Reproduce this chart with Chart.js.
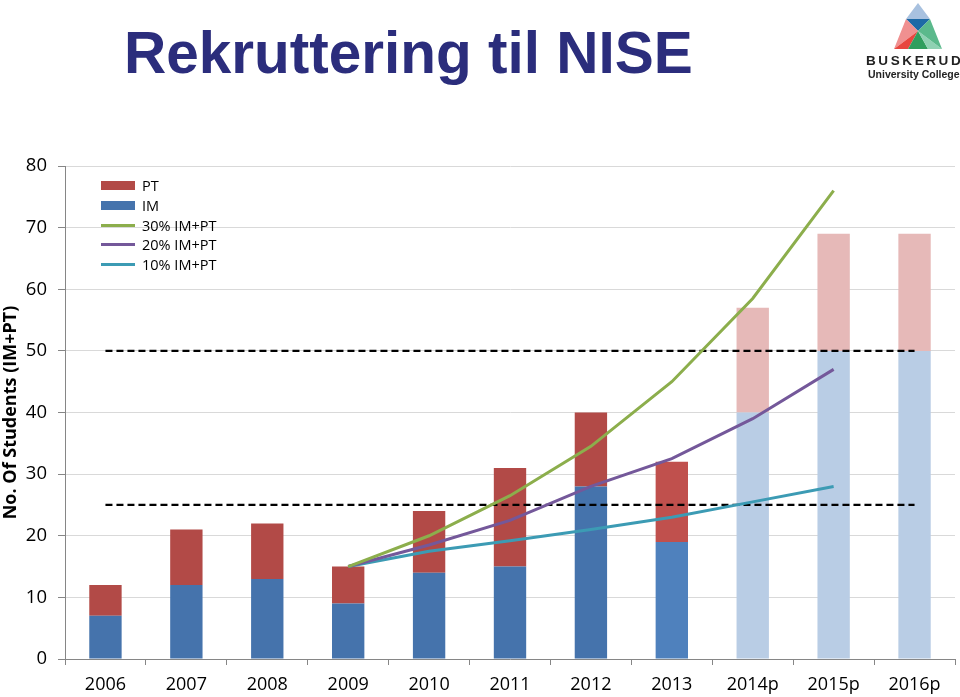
<!DOCTYPE html>
<html><head><meta charset="utf-8">
<script src="https://cdn.jsdelivr.net/npm/chart.js@4.4.0/dist/chart.umd.min.js"></script>
<style>
html,body{margin:0;padding:0;background:#fff;width:960px;height:697px;overflow:hidden;font-family:"Liberation Sans",Arial,sans-serif;}
#wrap{position:absolute;left:0;top:0;width:960px;height:697px;}
#title{position:absolute;left:124px;top:19px;font:bold 58.5px "Liberation Sans",Arial,sans-serif;color:#2b2d7c;white-space:nowrap;}
#legend{position:absolute;left:101px;top:176px;font:14.5px "Open Sans","Liberation Sans",sans-serif;color:#000;}
.li{height:19.7px;display:flex;align-items:center;}
.sw{width:34px;margin-right:7px;}
#logo{position:absolute;left:866px;top:2px;width:92px;}
#logo svg{display:block;margin-left:25px;}
#logo .b{font:bold 13.5px "Liberation Sans",Arial,sans-serif;letter-spacing:2.6px;color:#222;margin-top:2px;white-space:nowrap;}
#logo .u{font:bold 10.5px "Liberation Sans",Arial,sans-serif;color:#222;white-space:nowrap;margin-left:2px;}
</style></head>
<body>
<div id="wrap"><canvas id="c" width="960" height="697"></canvas></div>
<div id="title">Rekruttering til NISE</div>
<div id="logo">
<svg width="54" height="49" viewBox="0 0 54 49">
<polygon points="27,1 15,17 39,17" fill="#a8c1df"/>
<polygon points="15,17 39,17 27,29" fill="#1d69a6"/>
<polygon points="15,17 27,29 3,47" fill="#f09090"/>
<polygon points="3,47 27,29 17,47" fill="#e8473f"/>
<polygon points="27,29 17,47 37,47" fill="#2f9e5e"/>
<polygon points="27,29 37,47 51,47" fill="#8fd1b3"/>
<polygon points="39,17 27,29 51,47" fill="#5bb98c"/>
</svg>
<div class="b">BUSKERUD</div>
<div class="u">University College</div>
</div>
<div id="legend">
<div class="li"><div class="sw" style="height:9px;background:#b24a47"></div>PT</div>
<div class="li"><div class="sw" style="height:9px;background:#4573ac"></div>IM</div>
<div class="li"><div class="sw" style="height:3px;background:#8cae4c"></div>30% IM+PT</div>
<div class="li"><div class="sw" style="height:3px;background:#74589a"></div>20% IM+PT</div>
<div class="li"><div class="sw" style="height:3px;background:#3c9bb4"></div>10% IM+PT</div>
</div>
<script>
const categories = ["2006","2007","2008","2009","2010","2011","2012","2013","2014p","2015p","2016p"];
const imValues = [7,12,13,9,14,15,28,19,40,50,50];
const ptValues = [5,9,9,6,10,16,12,13,17,19,19];
const growth30 = [null,null,null,15,20,26.5,34.5,45,58.5,76,null];
const growth20 = [null,null,null,15,18.5,22.5,28,32.5,39,47,null];
const growth10 = [null,null,null,15,17.5,19.2,21,23,25.5,28,null];
const level50 = [50,50,50,50,50,50,50,50,50,50,50];
const level25 = [25,25,25,25,25,25,25,25,25,25,25];
const yTicks = [0,10,20,30,40,50,60,70,80];

const imColors = ["#4573ac","#4573ac","#4573ac","#4573ac","#4573ac","#4573ac","#4573ac","#4f81bd","#b9cde5","#b9cde5","#b9cde5"];
const ptColors = ["#b24a47","#b24a47","#b24a47","#b24a47","#b24a47","#b24a47","#b24a47","#c0504d","#e6b9b8","#e6b9b8","#e6b9b8"];

const lineBase = {type:'line',pointRadius:0,borderWidth:3,tension:0,fill:false,order:0,spanGaps:false};
new Chart(document.getElementById('c'),{
  data:{labels:categories,datasets:[
    {type:'bar',label:'IM',data:imValues,backgroundColor:imColors,stack:'bars',order:2,barPercentage:0.4,categoryPercentage:1},
    {type:'bar',label:'PT',data:ptValues,backgroundColor:ptColors,stack:'bars',order:2,barPercentage:0.4,categoryPercentage:1},
    Object.assign({},lineBase,{label:'50',stack:'l50',data:level50,borderColor:'#000',borderWidth:2.2,borderDash:[7,4],order:1}),
    Object.assign({},lineBase,{label:'25',stack:'l25',data:level25,borderColor:'#000',borderWidth:2.2,borderDash:[7,4],order:1}),
    Object.assign({},lineBase,{label:'30% IM+PT',stack:'g30',data:growth30,borderColor:'#8cae4c'}),
    Object.assign({},lineBase,{label:'20% IM+PT',stack:'g20',data:growth20,borderColor:'#74589a'}),
    Object.assign({},lineBase,{label:'10% IM+PT',stack:'g10',data:growth10,borderColor:'#3c9bb4'})
  ]},
  options:{
    responsive:false,animation:false,
    layout:{padding:{top:166,right:5,left:0,bottom:0}},
    plugins:{legend:{display:false},tooltip:{enabled:false}},
    scales:{
      x:{stacked:true,
        grid:{drawOnChartArea:false,offset:true,tickLength:6,color:'#868686'},
        border:{color:'#868686',width:1},
        ticks:{color:'#000',font:{size:18,family:'"Open Sans","Liberation Sans",sans-serif'},padding:9,maxRotation:0,autoSkip:false},
        afterFit:(s)=>{s.height=38;}
      },
      y:{stacked:true,min:0,max:80,
        afterBuildTicks:(s)=>{s.ticks=yTicks.map(v=>({value:v}));},
        grid:{color:'#d9d9d9',tickLength:7,tickColor:'#868686'},
        border:{color:'#868686',width:1},
        ticks:{color:'#000',font:{size:18.5,family:'"Open Sans","Liberation Sans",sans-serif'},padding:11},
        title:{display:true,text:'No. Of Students (IM+PT)',color:'#000',font:{size:18,weight:'bold',family:'"Open Sans","Liberation Sans",sans-serif'},padding:{top:0,bottom:0}},
        afterFit:(s)=>{s.width=65;}
      }
    }
  }
});
</script>
</body></html>
